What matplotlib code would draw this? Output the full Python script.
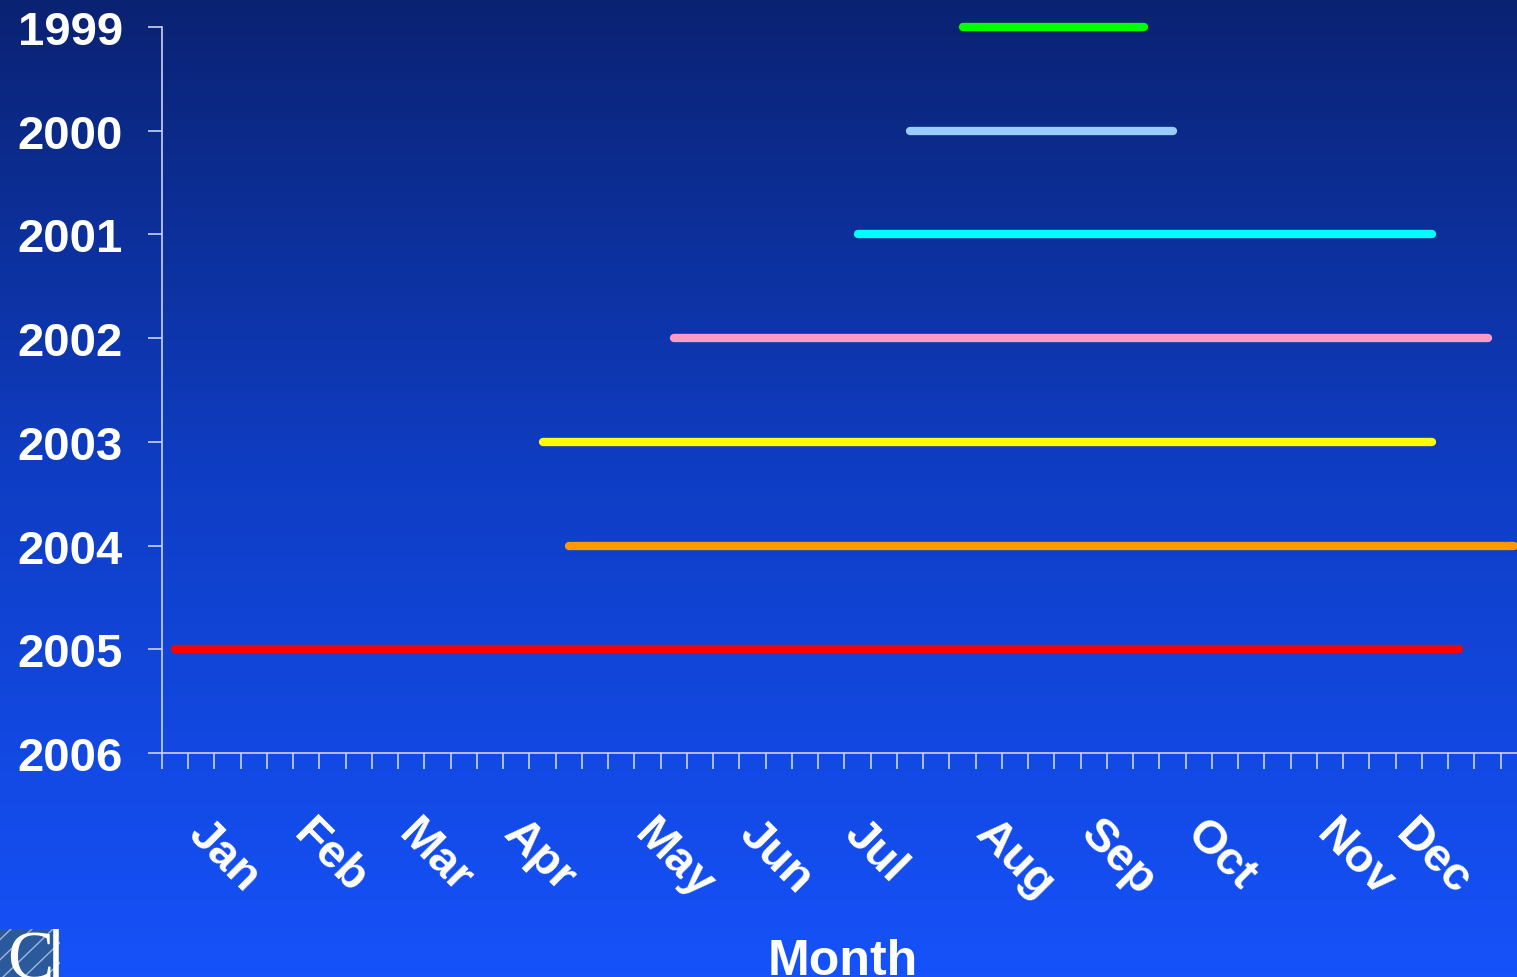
import numpy as np
import matplotlib
matplotlib.use("Agg")
import matplotlib.pyplot as plt
from matplotlib.colors import LinearSegmentedColormap

# season start / end per year, in weeks from 1 Jan
years = [1999, 2000, 2001, 2002, 2003, 2004, 2005]
start_week = [30.5, 28.5, 26.5, 19.5, 14.5, 15.5, 0.5]
end_week = [37.4, 38.5, 48.4, 50.5, 48.4, 51.5, 49.4]
colors = ['#00ff00', '#99ccff', '#00ffff', '#ff99cc', '#ffff00', '#ff9900', '#ff0000']

months = ['Jan', 'Feb', 'Mar', 'Apr', 'May', 'Jun', 'Jul', 'Aug', 'Sep', 'Oct', 'Nov', 'Dec']
month_week = [1, 5, 9, 13, 18, 22, 26, 31, 35, 39, 44, 47]
year_ticks = list(range(1999, 2007))

plt.rcParams['font.family'] = ['Liberation Sans', 'DejaVu Sans']

fig = plt.figure(figsize=(15.17, 9.78), dpi=100)

# gradient background over the whole figure
bg = fig.add_axes([0, 0, 1, 1], zorder=0)
bg_cmap = LinearSegmentedColormap.from_list('bg', ['#0a2272', '#0f3ec6', '#1652fa'])
bg.imshow(np.linspace(0, 1, 256).reshape(-1, 1), aspect='auto', cmap=bg_cmap,
          extent=[0, 1, 0, 1], origin='upper')
bg.axis('off')

ax = fig.add_axes([162 / 1517, 1 - 754 / 978, 1 - 162 / 1517, 726 / 978], zorder=1)
ax.patch.set_alpha(0)

for y, s, e, c in zip(years, start_week, end_week, colors):
    ax.plot([s, e], [y, y], color=c, lw=6, solid_capstyle='round', zorder=3, clip_on=False)

ax.set_ylim(2006, 1999)
ax.set_xlim(0, 51.62)
ax.set_yticks(year_ticks)
ax.set_yticklabels([str(y) for y in year_ticks], fontsize=34, fontweight='bold', color='white')
ax.set_xticks(range(0, 52))
ax.set_xticklabels([])

axis_col = '#c8d4f0'
for side in ['top', 'right']:
    ax.spines[side].set_visible(False)
for side in ['left', 'bottom']:
    ax.spines[side].set_color(axis_col)
    ax.spines[side].set_linewidth(1.2)
ax.tick_params(axis='y', direction='out', length=10, width=1.2, color=axis_col, pad=18)
ax.tick_params(axis='x', direction='out', length=11.5, width=1.2, color=axis_col)

for m, w in zip(months, month_week):
    ax.text(w + 0.85, -0.08, m, transform=ax.get_xaxis_transform(), rotation=-45,
            rotation_mode='anchor', ha='left', va='top', fontsize=34,
            fontweight='bold', color='white')

fig.text(843 / 1517, 1 - 975 / 978, 'Month', ha='center', va='baseline',
         fontsize=36, fontweight='bold', color='white')

# corner of the logo in the lower left
logo = fig.add_axes([0, 0, 60 / 1517, 48 / 978], zorder=2)
logo.set_facecolor('#2a5a9c')
logo.set_xlim(0, 1)
logo.set_ylim(0, 1)
for k in np.arange(-1, 1.2, 0.35):
    logo.plot([k, k + 1], [0, 1.2], color='#9fb8dc', lw=1)
logo.text(0.5, -0.35, 'C', fontsize=50, family='Liberation Serif', color='white',
          ha='center', va='bottom')
logo.axvline(0.94, color='white', lw=4)
logo.set_xticks([])
logo.set_yticks([])
for sp in logo.spines.values():
    sp.set_visible(False)

fig.savefig('out.png', dpi=100)
